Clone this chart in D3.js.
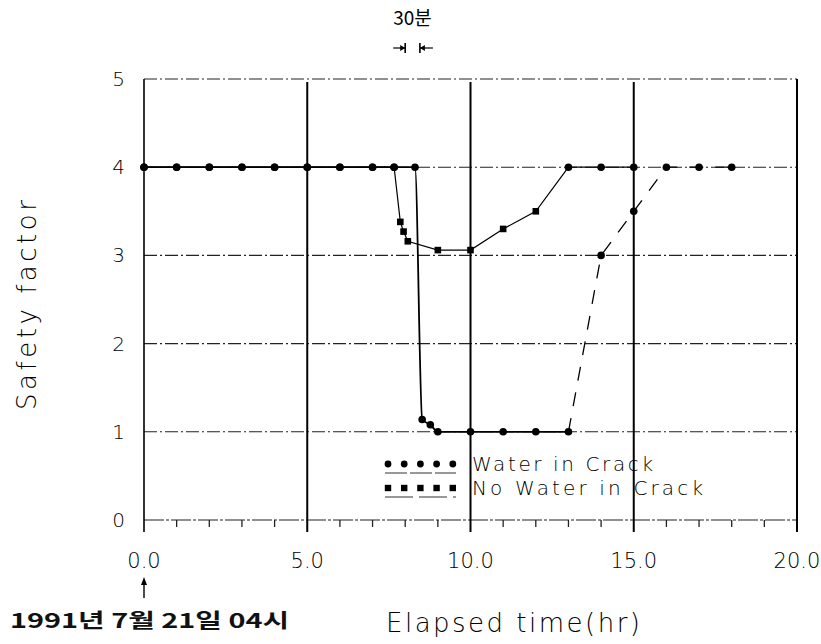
<!DOCTYPE html>
<html>
<head>
<meta charset="utf-8">
<script src="https://cdn.jsdelivr.net/npm/d3@7"></script>
<style>
  html, body { margin: 0; padding: 0; background: #fff; }
  svg { display: block; }
  .lbl { font-family: "DejaVu Sans", sans-serif; font-weight: 200; fill: #000; }
  .kr { font-family: "Noto Sans CJK KR", sans-serif; font-weight: 700; fill: #111; }
</style>
</head>
<body>
<svg id="chart" width="821" height="644"></svg>
<script>
// Elapsed time (hr) and safety factor, crack filled with water
const timeWater = [0, 1, 2, 3, 4, 5, 6, 7, 7.66, 8.3, 8.52, 8.77, 9, 10, 11, 12, 13];
const sfWater   = [4, 4, 4, 4, 4, 4, 4, 4, 4,    4,   1.14, 1.08, 1.0, 1.0, 1.0, 1.0, 1.0];
// recovery after the rain (dashed)
const timeWaterRec = [13, 14, 15, 16, 17, 18];
const sfWaterRec   = [1.0, 3.0, 3.5, 4, 4, 4];

// Elapsed time (hr) and safety factor, dry crack
const timeDry = [0, 1, 2, 3, 4, 5, 6, 7, 7.66, 7.85, 7.95, 8.08, 9, 10, 11, 12, 13, 14, 15];
const sfDry   = [4, 4, 4, 4, 4, 4, 4, 4, 4,    3.38, 3.27, 3.16, 3.06, 3.06, 3.3, 3.5, 4, 4, 4];

const xTickValues = [0, 5, 10, 15, 20];
const xTickLabels = ["0.0", "5.0", "10.0", "15.0", "20.0"];
const xMinorTicks = [1,2,3,4,6,7,8,9,11,12,13,14,16,17,18,19];
const yTickValues = [0, 1, 2, 3, 4, 5];
const yTickLabels = ["0", "1", "2", "3", "4", "5"];
const legendLabels = ["Water in Crack", "No Water in Crack"];
const spanLabel = "30분";
const spanHours = [8.0, 8.45];
const startLabel = "1991년 7월 21일 04시";

const svg = d3.select("#chart");
const x = d3.scaleLinear().domain([0, 20]).range([144, 797]);
const y = d3.scaleLinear().domain([0, 5]).range([520, 79]);

const dashDot = "13,3,2,3";

// horizontal grid (dash-dot), including the top frame line
svg.append("g").selectAll("line").data(yTickValues.filter(v => v > 0)).join("line")
  .attr("x1", x(0)).attr("x2", x(20))
  .attr("y1", d => y(d)).attr("y2", d => y(d))
  .attr("stroke", "#222").attr("stroke-width", 1.1)
  .attr("stroke-dasharray", dashDot);

// bottom axis line with minor ticks
svg.append("line")
  .attr("x1", x(0)).attr("x2", x(20)).attr("y1", y(0)).attr("y2", y(0))
  .attr("stroke", "#222").attr("stroke-width", 1.1).attr("stroke-dasharray", "20,2,3,2");
svg.append("g").selectAll("line").data(xMinorTicks).join("line")
  .attr("x1", d => x(d)).attr("x2", d => x(d))
  .attr("y1", y(0)).attr("y2", y(0) + 7)
  .attr("stroke", "#222").attr("stroke-width", 1.3);

// vertical grid at major ticks (solid), left axis and right frame
svg.append("g").selectAll("line").data(xTickValues).join("line")
  .attr("x1", d => x(d)).attr("x2", d => x(d))
  .attr("y1", d => (d === 0 || d === 20) ? y(5) : y(5) + 3)
  .attr("y2", y(0) + 12)
  .attr("stroke", "#000")
  .attr("stroke-width", d => d === 0 ? 1.6 : 2);

// y tick labels
svg.append("g").selectAll("text").data(yTickValues).join("text")
  .attr("class", "lbl")
  .attr("x", x(0) - 19).attr("y", d => y(d) + 7)
  .attr("text-anchor", "end")
  .attr("font-size", 20)
  .text((d, i) => yTickLabels[i]);

// x tick labels
svg.append("g").selectAll("text").data(xTickValues).join("text")
  .attr("class", "lbl")
  .attr("x", d => x(d)).attr("y", y(0) + 48)
  .attr("text-anchor", "middle")
  .attr("font-size", 21)
  .text((d, i) => xTickLabels[i]);

// axis titles
svg.append("text").attr("class", "lbl")
  .attr("transform", `translate(36, 305) rotate(-90)`)
  .attr("text-anchor", "middle").attr("font-size", 26)
  .attr("textLength", 210).attr("lengthAdjust", "spacing")
  .text("Safety factor");
svg.append("text").attr("class", "lbl")
  .attr("x", 386).attr("y", 632)
  .attr("font-size", 26)
  .attr("textLength", 254).attr("lengthAdjust", "spacing")
  .text("Elapsed time(hr)");

// series lines
const curved = d3.line().x(d => x(d[0])).y(d => y(d[1])).curve(d3.curveMonotoneX);
const straight = d3.line().x(d => x(d[0])).y(d => y(d[1]));
const waterPts = d3.zip(timeWater, sfWater);
const waterRecPts = d3.zip(timeWaterRec, sfWaterRec);
const dryPts = d3.zip(timeDry, sfDry);

svg.append("path").datum(dryPts).attr("d", straight)
  .attr("fill", "none").attr("stroke", "#000").attr("stroke-width", 1.2);
svg.append("path").datum(waterPts).attr("d", curved)
  .attr("fill", "none").attr("stroke", "#000").attr("stroke-width", 1.8);
svg.append("path").datum(waterRecPts).attr("d", straight)
  .attr("fill", "none").attr("stroke", "#000").attr("stroke-width", 1.3)
  .attr("stroke-dasharray", "14,12");

// markers
svg.append("g").selectAll("circle").data(waterPts.concat(waterRecPts.slice(1))).join("circle")
  .attr("cx", d => x(d[0])).attr("cy", d => y(d[1])).attr("r", 3.8).attr("fill", "#000");
svg.append("g").selectAll("rect").data(dryPts.filter(d => d[1] < 4)).join("rect")
  .attr("x", d => x(d[0]) - 3.3).attr("y", d => y(d[1]) - 3.3)
  .attr("width", 6.6).attr("height", 6.6).attr("fill", "#000");
svg.append("g").selectAll("circle").data(dryPts.filter(d => d[1] >= 4)).join("circle")
  .attr("cx", d => x(d[0])).attr("cy", d => y(d[1])).attr("r", 3.8).attr("fill", "#000");

// legend
const legend = svg.append("g").attr("transform", "translate(388, 464)");
legendLabels.forEach((lab, i) => {
  const g = legend.append("g").attr("transform", `translate(0, ${i * 24})`);
  g.selectAll(i === 0 ? "circle" : "rect").data(d3.range(5)).join(i === 0 ? "circle" : "rect")
    .each(function(k) {
      const s = d3.select(this);
      if (i === 0) s.attr("cx", k * 16.2).attr("cy", 0).attr("r", 3.4);
      else s.attr("x", k * 16.2 - 3.2).attr("y", -3.2).attr("width", 6.4).attr("height", 6.4);
    })
    .attr("fill", "#000");
  g.append("line").attr("x1", -3).attr("x2", 68).attr("y1", 9).attr("y2", 9)
    .attr("stroke", "#333").attr("stroke-width", 1)
    .attr("stroke-dasharray", i === 0 ? "22,3" : "28,6");
  g.append("text").attr("class", "lbl")
    .attr("x", 84).attr("y", 7).attr("font-size", 20)
    .attr("textLength", i === 0 ? 181 : 231).attr("lengthAdjust", "spacing")
    .text(lab);
});

// 30-minute span marker
const ya = 48;
const xl = x(spanHours[0]), xr = x(spanHours[1]);
svg.append("text").attr("class", "lbl")
  .attr("x", (xl + xr) / 2).attr("y", 25)
  .attr("text-anchor", "middle").attr("font-size", 19)
  .style("font-family", "'Noto Sans CJK KR', sans-serif").style("font-weight", 400)
  .text(spanLabel);
svg.append("line").attr("x1", xl - 12).attr("x2", xl).attr("y1", ya).attr("y2", ya)
  .attr("stroke", "#000").attr("stroke-width", 1.2);
svg.append("path").attr("d", `M${xl},${ya} l-5,-3 v6 z`).attr("fill", "#000");
svg.append("line").attr("x1", xl).attr("x2", xl).attr("y1", ya - 5).attr("y2", ya + 5)
  .attr("stroke", "#000").attr("stroke-width", 1.6);
svg.append("line").attr("x1", xr).attr("x2", xr + 13).attr("y1", ya).attr("y2", ya)
  .attr("stroke", "#000").attr("stroke-width", 1.2);
svg.append("path").attr("d", `M${xr},${ya} l5,-3 v6 z`).attr("fill", "#000");
svg.append("line").attr("x1", xr).attr("x2", xr).attr("y1", ya - 5).attr("y2", ya + 5)
  .attr("stroke", "#000").attr("stroke-width", 1.6);

// start-time marker below the origin
svg.append("line").attr("x1", x(0)).attr("x2", x(0)).attr("y1", 598).attr("y2", 583)
  .attr("stroke", "#000").attr("stroke-width", 1.4);
svg.append("path").attr("d", `M${x(0)},577 l-3,8 h6 z`).attr("fill", "#000");
svg.append("text").attr("class", "kr")
  .attr("x", 10).attr("y", 628).attr("font-size", 20)
  .attr("textLength", 279).attr("lengthAdjust", "spacingAndGlyphs")
  .text(startLabel);
</script>
</body>
</html>
